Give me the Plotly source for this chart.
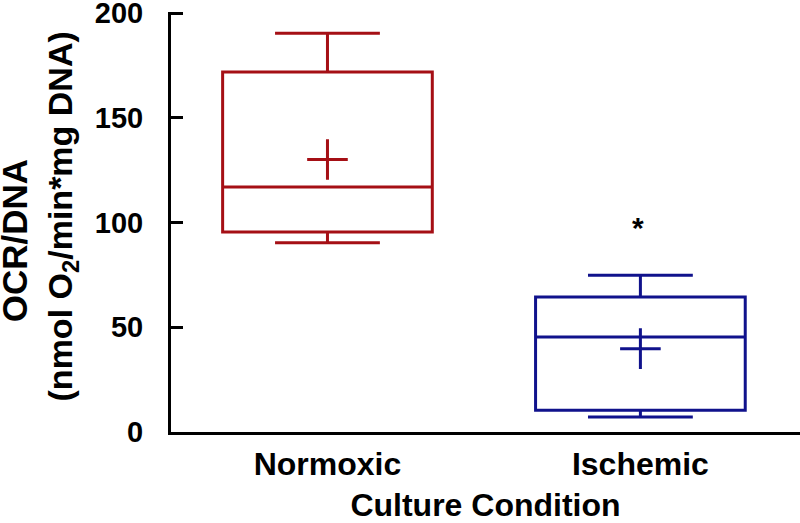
import plotly.graph_objects as go

# ---- data ----
categories = ["Normoxic", "Ischemic"]
q1 = [95.5, 10.4]
median = [117.0, 45.4]
q3 = [171.9, 64.5]
lower_whisker = [90.3, 7.2]
upper_whisker = [190.3, 74.8]
means = [130.1, 39.8]
box_colors = ["#A50F15", "#10128C"]
y_tick_values = [0, 50, 100, 150, 200]
sig_category = "Ischemic"
sig_y = 98.7
sig_text = "*"

FONT = "Liberation Sans, Arial, sans-serif"

fig = go.Figure()

for i, cat in enumerate(categories):
    fig.add_trace(go.Box(
        x=[cat],
        q1=[q1[i]], median=[median[i]], q3=[q3[i]],
        lowerfence=[lower_whisker[i]], upperfence=[upper_whisker[i]],
        width=0.67, whiskerwidth=0.5,
        line=dict(color=box_colors[i], width=3),
        fillcolor="rgba(0,0,0,0)",
        boxpoints=False, showlegend=False, hoverinfo="skip",
    ))

fig.add_trace(go.Scatter(
    x=categories, y=means, mode="markers",
    marker=dict(symbol="cross-thin", size=29, color=box_colors,
                line=dict(width=3, color=box_colors)),
    showlegend=False, hoverinfo="skip",
))

fig.add_annotation(
    x=sig_category, y=sig_y, text=sig_text, showarrow=False,
    xref="x", yref="y", yanchor="middle", yshift=-2, xshift=-2,
    font=dict(family=FONT, size=30, color="black", weight="bold"),
)

fig.add_annotation(
    xref="paper", yref="paper", x=-0.21, y=0.513,
    xanchor="center", yanchor="middle", textangle=-90, showarrow=False,
    text=("<span style='font-size:35px'>OCR/DNA&nbsp;&nbsp;&nbsp;&nbsp;&nbsp;</span><br>"
          "(nmol O<sub>2</sub>/min*mg DNA)"),
    font=dict(family=FONT, size=34, color="black", weight="bold"),
)

fig.update_layout(
    width=800, height=523,
    margin=dict(l=171, r=0, t=12, b=91, autoexpand=False),
    paper_bgcolor="white", plot_bgcolor="white",
    showlegend=False,
    xaxis=dict(
        type="category", range=[-0.5, 1.51], automargin=False,
        showline=True, linewidth=3, linecolor="black",
        ticks="", showgrid=False, zeroline=False,
        tickfont=dict(family=FONT, size=32, color="black", weight="bold"),
        ticklabelstandoff=2,
        title=dict(text="Culture Condition", standoff=14,
                   font=dict(family=FONT, size=32, color="black", weight="bold")),
    ),
    yaxis=dict(
        range=[0, 200.5], tickvals=y_tick_values, automargin=False,
        showline=True, linewidth=3, linecolor="black",
        ticks="inside", ticklen=12, tickwidth=3, tickcolor="black",
        showgrid=False, zeroline=False,
        tickfont=dict(family=FONT, size=29, color="black", weight="bold"),
        ticklabelstandoff=19, ticklabeloverflow="allow",
    ),
)

fig.write_html("out.html",
               config={"displayModeBar": False},
               post_script="document.body.style.margin='0';document.body.style.overflow='hidden';")
